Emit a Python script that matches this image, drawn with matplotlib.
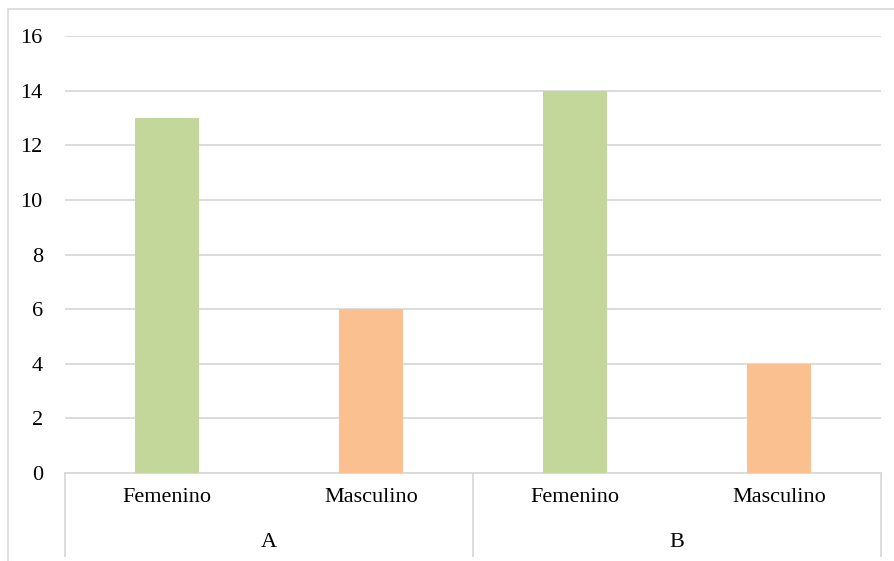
import matplotlib
matplotlib.use("Agg")
import matplotlib.pyplot as plt
from matplotlib.patches import Rectangle

# conteo por grupo y sexo
grupos = ["A", "B"]
sexos = ["Femenino", "Masculino"]
valores_A = [13, 6]
valores_B = [14, 4]
colores = ["#c4d79b", "#fac090"]

plt.rcParams['font.family'] = ['Liberation Serif', 'DejaVu Serif']

fig = plt.figure(figsize=(8.95, 5.61), dpi=100)
fig.patches.append(Rectangle((8 / 895, -0.05), 1.1, 1 - 9 / 561 + 0.05,
                             transform=fig.transFigure, fill=False,
                             edgecolor="#d9d9d9", linewidth=1.2))

ax = fig.add_axes([65 / 895, 88 / 561, 816 / 895, 437 / 561])

etiquetas = []
alturas = []
cols = []
for g, vals in zip(grupos, [valores_A, valores_B]):
    for s, v, c in zip(sexos, vals, colores):
        etiquetas.append(s)
        alturas.append(v)
        cols.append(c)

x = list(range(len(alturas)))
ax.bar(x, alturas, width=0.31, color=cols, zorder=3)

ax.set_xlim(-0.5, len(x) - 0.5)
ax.set_ylim(0, 16)
ax.set_yticks(range(0, 17, 2))
ax.grid(axis="y", color="#d9d9d9", linewidth=1.3, zorder=0)
for side in ["top", "right", "left"]:
    ax.spines[side].set_visible(False)
ax.spines["bottom"].set_color("#d9d9d9")
ax.spines["bottom"].set_linewidth(1.3)
ax.tick_params(axis="y", length=0, pad=16, labelsize=16)
ax.set_xticks([])

# etiquetas de categoria y de grupo bajo el eje
trans = ax.get_xaxis_transform()
for xi, lab in zip(x, etiquetas):
    ax.text(xi, -0.055, lab, transform=trans, ha="center", va="center",
            fontsize=16)
n = len(sexos)
for i, g in enumerate(grupos):
    centro = i * n + (n - 1) / 2
    ax.text(centro, -0.16, g, transform=trans, ha="center", va="center",
            fontsize=16)
for i in range(len(grupos) + 1):
    xb = i * n - 0.5
    ax.plot([xb, xb], [0, -0.19], transform=trans, color="#d9d9d9",
            linewidth=1.3, clip_on=False)

fig.savefig("out.png", dpi=100)
